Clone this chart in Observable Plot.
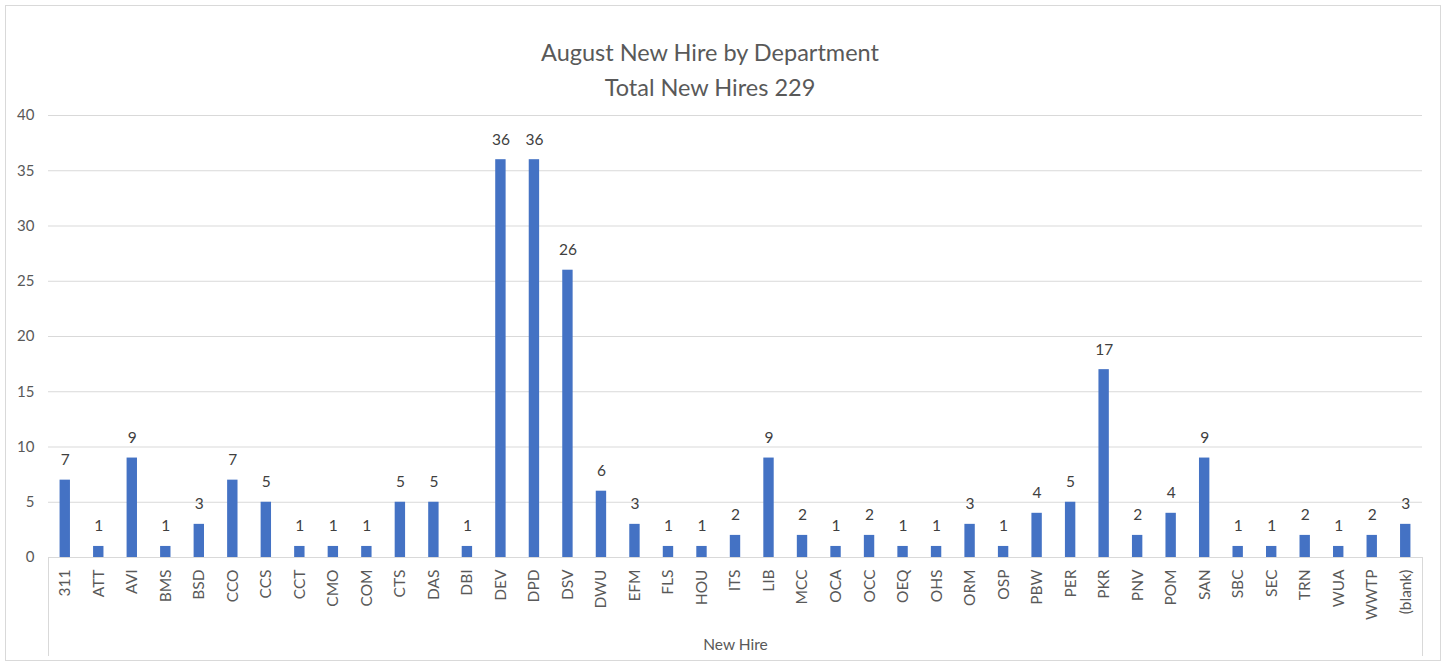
<!DOCTYPE html>
<html>
<head>
<meta charset="utf-8">
<script src="https://cdn.jsdelivr.net/npm/d3@7"></script>
<script src="https://cdn.jsdelivr.net/npm/@observablehq/plot@0.6"></script>
<style>
  html, body { margin: 0; padding: 0; background: #fff; }
  #wrap { position: relative; width: 1445px; height: 664px; font-family: Lato, "Open Sans", sans-serif; }
  #border { position: absolute; left: 5px; top: 5px; width: 1434px; height: 654px; border: 1px solid #d9d9d9; pointer-events: none; }
  .title { position: absolute; left: 0; width: 1420px; text-align: center; color: #595959; font-size: 23.5px; }
  .vline { position: absolute; width: 0; border-left: 1px solid #d9d9d9; top: 557px; height: 99px; }
  #chart { position: absolute; left: 0; top: 0; }
</style>
</head>
<body>
<div id="wrap">
  <div id="chart"></div>
  <div id="border"></div>
  <div class="title" style="top:38px;">August New Hire by Department</div>
  <div class="title" style="top:73px;">Total New Hires 229</div>
  <div class="vline" style="left:48px;"></div>
  <div class="vline" style="left:1422px;"></div>
</div>
<script>
const departments = ["311","ATT","AVI","BMS","BSD","CCO","CCS","CCT","CMO","COM","CTS","DAS","DBI","DEV","DPD","DSV","DWU","EFM","FLS","HOU","ITS","LIB","MCC","OCA","OCC","OEQ","OHS","ORM","OSP","PBW","PER","PKR","PNV","POM","SAN","SBC","SEC","TRN","WUA","WWTP","(blank)"];
const newHires = [7,1,9,1,3,7,5,1,1,1,5,5,1,36,36,26,6,3,1,1,2,9,2,1,2,1,1,3,1,4,5,17,2,4,9,1,1,2,1,2,3];
const yTicks = [0,5,10,15,20,25,30,35,40];

const data = departments.map((d, i) => ({dept: d, n: newHires[i]}));

const chart = Plot.plot({
  width: 1445,
  height: 664,
  marginLeft: 48,
  marginRight: 23,
  marginTop: 115,
  marginBottom: 107,
  style: {fontFamily: "Lato, 'Open Sans', sans-serif", color: "#595959", background: "transparent"},
  x: {domain: departments, paddingInner: 0.69, paddingOuter: 0.345, round: false, label: null},
  y: {domain: [0, 40], label: null},
  marks: [
    Plot.gridY(yTicks, {stroke: "#d9d9d9", strokeOpacity: 1, strokeWidth: 1}),
    Plot.ruleY([0], {stroke: "#d9d9d9", strokeWidth: 1}),
    Plot.barY(data, {x: "dept", y: "n", fill: "#4472C4"}),
    Plot.text(data, {x: "dept", y: "n", text: d => String(d.n), dy: -20, fontSize: 15.5, fill: "#404040"}),
    Plot.axisY(yTicks, {tickSize: 0, tickPadding: 14, fontSize: 15, fill: "#595959", label: null}),
    Plot.axisX({tickSize: 0, tickRotate: -90, tickPadding: 12, fontSize: 15.5, fill: "#595959", label: "New Hire", labelAnchor: "center", labelArrow: "none", labelOffset: 92})
  ]
});
document.getElementById("chart").appendChild(chart);
</script>
</body>
</html>
